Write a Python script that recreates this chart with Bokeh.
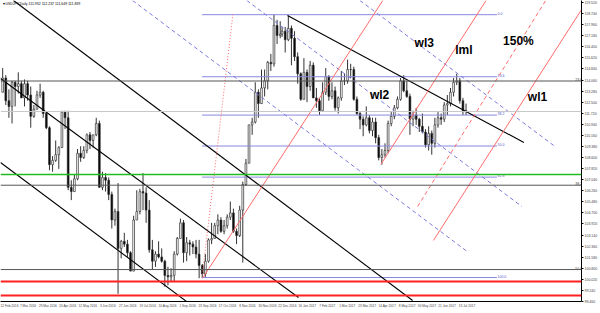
from bokeh.plotting import figure
from bokeh.models import Range1d, FixedTicker, NumeralTickFormatter, Label, Span
from bokeh.embed import file_html
from bokeh.resources import INLINE
from bokeh.core.properties import value

# ---------------- data: USDJPY daily, read as half-week candles ----------------
first_open = 113.2
half_high = [
    114.9, 114.4, 113.4, 114.0, 114.0, 114.6, 114.0, 114.1, 114.0, 113.6,
    112.3, 113.3, 113.8, 113.3, 111.8, 110.8, 108.7, 109.8, 109.4, 111.9,
    111.9, 111.9, 107.0, 107.4, 109.2, 109.4, 109.4, 110.3, 110.4, 110.2,
    111.4, 111.2, 107.6, 107.5, 107.2, 106.2, 105.0, 106.8, 102.8, 103.3,
    102.8, 102.0, 104.5, 106.3, 106.4, 107.5, 106.5, 105.6, 102.8, 102.0,
    102.7, 102.2, 101.4, 100.9, 100.8, 102.0, 103.0, 104.3, 104.2, 103.0,
    102.8, 102.7, 102.8, 102.8, 101.1, 101.8, 102.9, 104.0, 104.0, 104.6,
    104.4, 104.2, 104.6, 105.5, 105.0, 103.6, 105.2, 106.9, 108.5, 110.9,
    111.4, 113.9, 113.4, 114.8, 114.8, 115.4, 115.9, 118.66, 118.3, 118.2,
    117.8, 117.8, 118.6, 117.9, 117.5, 116.0, 114.6, 115.6, 114.8, 115.4,
    115.3, 113.5, 112.8, 113.9, 114.9, 114.4, 113.9, 113.6, 112.9, 114.7,
    114.5, 115.5, 115.2, 115.0, 112.9, 111.8, 111.5, 112.2, 111.6, 111.4,
    111.4, 110.2, 109.2, 109.6, 111.2, 111.8, 112.3, 112.9, 114.2, 114.4,
    114.0, 113.1, 111.9, 112.1, 111.4, 111.7, 110.6, 110.8, 110.5, 111.4,
    111.8, 111.7, 112.5, 113.0, 113.5, 114.2, 114.5, 114.2, 112.8, 112.4,
]
half_low = [
    113.2, 112.3, 111.4, 111.0, 112.2, 113.1, 112.8, 112.2, 112.6, 110.7,
    111.4, 112.0, 112.8, 111.4, 110.6, 107.7, 107.6, 108.3, 107.8, 109.3,
    110.6, 106.3, 105.6, 106.2, 107.0, 108.3, 108.5, 108.9, 109.2, 109.3,
    110.1, 106.5, 106.3, 106.2, 105.6, 103.6, 103.8, 99.0, 101.5, 102.3,
    101.6, 100.6, 100.6, 104.2, 104.6, 104.9, 104.0, 101.9, 100.7, 100.9,
    101.5, 101.2, 99.5, 99.6, 99.9, 99.9, 101.7, 102.9, 101.2, 101.3,
    101.7, 101.8, 101.5, 100.1, 100.1, 100.2, 101.2, 102.5, 102.9, 103.2,
    103.3, 103.2, 103.6, 104.2, 103.3, 102.5, 103.0, 101.2, 106.6, 108.2,
    110.2, 111.0, 111.4, 112.4, 112.9, 113.4, 114.7, 115.0, 116.6, 117.0,
    117.1, 116.0, 116.8, 115.1, 115.4, 113.8, 112.6, 112.7, 112.5, 113.3,
    112.8, 112.1, 111.6, 111.9, 113.0, 112.6, 112.7, 111.9, 111.7, 112.6,
    113.7, 113.8, 114.2, 112.6, 111.6, 110.6, 110.1, 110.8, 110.3, 110.1,
    109.6, 108.4, 108.1, 108.6, 108.9, 110.8, 111.3, 112.0, 112.6, 113.2,
    112.8, 110.2, 110.8, 110.9, 110.4, 110.3, 109.3, 109.1, 108.8, 109.3,
    110.7, 110.9, 111.1, 111.6, 112.2, 112.9, 113.7, 112.4, 111.6, 111.6,
]
half_close = [
    114.2, 112.6, 112.2, 113.9, 113.6, 113.8, 112.8, 113.8, 113.0, 111.5,
    112.0, 113.0, 113.2, 111.7, 110.7, 108.1, 108.4, 108.8, 109.3, 111.8,
    111.4, 106.5, 106.2, 107.1, 108.9, 108.6, 109.1, 110.2, 109.8, 110.2,
    111.0, 106.5, 107.2, 107.0, 106.0, 104.2, 104.8, 102.2, 102.7, 102.5,
    101.9, 100.6, 104.2, 104.8, 106.2, 106.1, 104.9, 102.1, 101.3, 101.8,
    101.6, 101.3, 100.3, 100.2, 100.3, 101.8, 102.9, 104.0, 101.9, 102.6,
    102.5, 102.3, 101.8, 101.0, 100.4, 101.3, 102.8, 102.9, 103.8, 104.2,
    103.4, 103.8, 104.4, 104.7, 103.4, 103.1, 104.9, 106.7, 108.2, 110.9,
    111.1, 113.2, 112.4, 113.5, 114.0, 115.3, 115.2, 117.9, 117.2, 117.3,
    117.5, 116.9, 117.7, 117.0, 115.7, 114.5, 112.7, 114.6, 113.6, 115.1,
    112.8, 112.6, 111.9, 113.2, 114.3, 112.9, 113.3, 112.1, 112.8, 114.0,
    114.0, 114.8, 114.8, 112.7, 111.7, 111.3, 110.9, 111.4, 110.5, 111.1,
    110.0, 108.6, 108.8, 109.1, 111.0, 111.5, 112.1, 112.7, 114.0, 113.3,
    112.9, 111.3, 111.6, 111.3, 110.8, 110.4, 109.5, 110.3, 109.6, 110.9,
    111.4, 111.3, 112.3, 112.4, 113.2, 113.9, 114.0, 112.6, 111.9, 111.84,
]

date_labels = ["12 Feb 2016", "7 Mar 2016", "29 Mar 2016", "20 Apr 2016", "12 May 2016",
               "3 Jun 2016", "27 Jun 2016", "19 Jul 2016", "10 Aug 2016", "1 Sep 2016",
               "23 Sep 2016", "17 Oct 2016", "8 Nov 2016", "30 Nov 2016", "22 Dec 2016",
               "16 Jan 2017", "7 Feb 2017", "1 Mar 2017", "23 Mar 2017", "14 Apr 2017",
               "8 May 2017", "30 May 2017", "21 Jun 2017", "13 Jul 2017"]
price_ticks = [98.46, 99.24, 100.02, 100.80, 101.58, 102.36, 103.14, 103.92, 104.70,
               105.48, 106.26, 107.04, 107.82, 108.60, 109.38, 110.16, 110.94, 111.72,
               112.50, 113.28, 114.06, 114.84, 115.62, 116.40, 117.18, 117.96, 118.74, 119.52]

# drawn objects (bar index, price)
black_x0 = [10.4, 0.0, 0.0, 230.1]
black_p0 = [119.66, 114.17, 108.25, 118.60]
black_x1 = [330.4, 238.9, 151.3, 419.6]
black_p1 = [98.53, 98.74, 98.32, 109.66]

blue_x0 = [105.9, 197.5, 288.2]
blue_p0 = [119.66, 119.66, 119.66]
blue_x1 = [374.2, 418.0, 443.5]
blue_p1 = [101.98, 105.15, 109.45]

red_x0 = [162.4, 304.9, 347.1]
red_p0 = [100.15, 108.11, 102.76]
red_x1 = [306.5, 389.3, 470.5]
red_p1 = [119.66, 119.66, 119.66]

red_dash_x = [334.4, 437.1]
red_dash_p = [105.15, 119.66]
red_dot_x = [161.6, 186.3]
red_dot_p = [100.15, 118.67]

fib_x = [161.6, 398.0]
fib_ratio = ["0.0", "23.6", "38.2", "50.0", "61.8", "100.0"]
fib_price = [118.66, 114.29, 111.59, 109.41, 107.22, 100.15]

gray_fib_label = ["23.6", "38.2", "50.0"]
gray_fib_price = [113.99, 106.65, 100.71]

green_level = 107.41
red_levels = [99.87, 98.88]
last_price = 111.84

note_text = ["wl3", "lml", "150%", "wl2", "wl1"]
note_x = [332.0, 364.6, 402.9, 296.2, 422.8]
note_p = [116.70, 116.14, 116.84, 112.97, 112.83]

# ---------------- figure ----------------
XMAX = 465.8
p = figure(width=600, height=313, x_range=Range1d(0, XMAX), y_range=Range1d(98.46, 119.66),
           toolbar_location=None, output_backend="svg", y_axis_location="right",
           min_border_left=0, min_border_top=0, min_border_right=0, min_border_bottom=12)
p.outline_line_color = None
p.grid.visible = False

FONT = "Liberation Sans"

# candles
xs = []
for j in range(len(half_close)):
    k = j // 2
    xs.append(5 * k + (1.75 if j % 2 == 0 else 4.25) - (1 if k >= 45 else 0))
opens = [first_open] + half_close[:-1]
tops = [max(o, c) for o, c in zip(opens, half_close)]
bots = [min(o, c) for o, c in zip(opens, half_close)]
fills = ["white" if c >= o else "black" for o, c in zip(opens, half_close)]

p.segment(x0=xs, y0=half_low, x1=xs, y1=half_high, line_color="#333333", line_width=1)
p.vbar(x=xs, width=1.4, top=tops, bottom=bots, fill_color=fills, line_color="#333333", line_width=0.7)

# horizontal levels
p.add_layout(Span(location=last_price, dimension="width", line_color="#c8c8c8", line_width=1))
for gp in gray_fib_price:
    p.add_layout(Span(location=gp, dimension="width", line_color="#555555", line_width=1))
p.add_layout(Span(location=green_level, dimension="width", line_color="#22bb22", line_width=1.5))
for rp in red_levels:
    p.add_layout(Span(location=rp, dimension="width", line_color="#ff2020", line_width=2))

# blue fib
p.multi_line(xs=[fib_x for _ in fib_price], ys=[[fp, fp] for fp in fib_price],
             line_color="#8888e0", line_width=1)
p.text(x=[fib_x[1] + 0.5] * len(fib_price), y=fib_price, text=fib_ratio,
       text_font=value(FONT), text_font_size="3.5px", text_color="#5555cc",
       text_baseline="bottom", text_align="left")
p.text(x=[XMAX - 5] * len(gray_fib_price), y=gray_fib_price, text=gray_fib_label,
       text_font=value(FONT), text_font_size="3.5px", text_color="#444444",
       text_baseline="bottom", text_align="left")

# trend lines
p.segment(x0=black_x0, y0=black_p0, x1=black_x1, y1=black_p1, line_color="black", line_width=1.1)
p.segment(x0=blue_x0, y0=blue_p0, x1=blue_x1, y1=blue_p1, line_color="#7b7be0",
          line_width=1, line_dash="4 3")
p.segment(x0=red_x0, y0=red_p0, x1=red_x1, y1=red_p1, line_color="#ff6b6b", line_width=1)
p.line(x=red_dash_x, y=red_dash_p, line_color="#ff6b6b", line_width=1, line_dash="4 3")
p.line(x=red_dot_x, y=red_dot_p, line_color="#ff6b6b", line_width=1, line_dash="1 2")

# annotations
p.text(x=note_x, y=note_p, text=note_text, text_font=value(FONT), text_font_style="bold",
       text_font_size="12px", text_color="black", text_baseline="middle", text_align="left")

p.add_layout(Label(x=0, y=119.66, x_offset=2, y_offset=-1,
                   text="\u25BE USDJPY,Daily  111.932 112.237 111.649 111.839",
                   text_font=FONT, text_font_size="3.5px", text_baseline="top", text_color="black"))

# axes
p.yaxis.ticker = FixedTicker(ticks=price_ticks)
p.yaxis.formatter = NumeralTickFormatter(format="0.000")
p.yaxis.major_label_text_font = FONT
p.yaxis.major_label_text_font_size = "3.5px"
p.yaxis.major_tick_out = 2
p.yaxis.major_tick_in = 0
p.yaxis.minor_tick_out = 0
p.yaxis.minor_tick_in = 0
p.yaxis.major_label_standoff = 1
p.yaxis.axis_line_color = "black"

xt = [16 * n + 6 for n in range(len(date_labels))]
p.xaxis.ticker = FixedTicker(ticks=xt)
p.xaxis.major_label_overrides = {t: lbl for t, lbl in zip(xt, date_labels)}
p.xaxis.major_label_text_font = FONT
p.xaxis.major_label_text_font_size = "3.2px"
p.xaxis.major_tick_out = 0
p.xaxis.major_tick_in = 0
p.xaxis.minor_tick_out = 0
p.xaxis.minor_tick_in = 0
p.xaxis.major_label_standoff = 2
p.xaxis.axis_line_color = "black"

open("out.html", "w").write(file_html(p, INLINE))
